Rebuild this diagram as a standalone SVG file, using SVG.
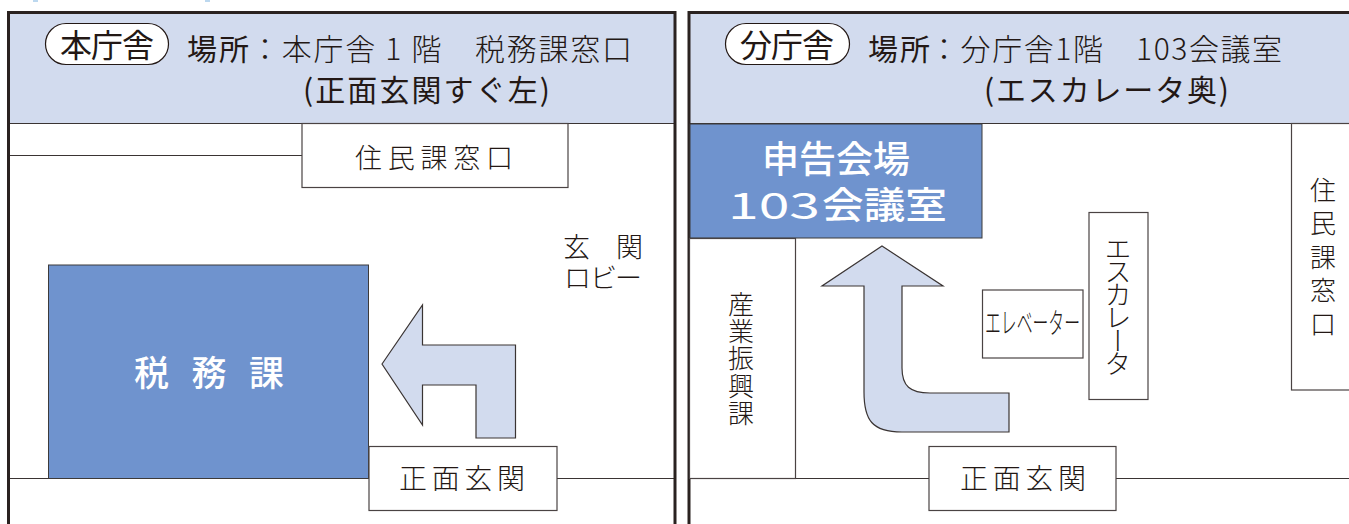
<svg xmlns="http://www.w3.org/2000/svg" width="1349" height="524" viewBox="0 0 1349 524">
<style>
text{font-family:"Noto Sans CJK JP","Noto Sans",sans-serif;fill:#231815}
.l{font-weight:300}
.m{font-weight:400}
.w{fill:#fff;font-weight:500}
.v{writing-mode:vertical-rl;dominant-baseline:central}
.hd{fill:#d2dbee}
.box{fill:#fff;stroke:#4a4343;stroke-width:1.2}
.blue{fill:#6f93ce;stroke:#3d3a3a;stroke-width:1}
.ln{fill:none;stroke:#3a3433;stroke-width:1.2}
.fr{fill:none;stroke:#2a2220;stroke-width:3}
.ar{fill:#d2dbee;stroke:#3a3433;stroke-width:1.2}
.pill{fill:#fff;stroke:#231815;stroke-width:1.2}
.sp{fill:#bcd8ef}
</style>
<rect width="1349" height="524" fill="#fff"/>
<rect class="sp" x="33" y="0" width="5" height="2"/>
<rect class="sp" x="205" y="0" width="5" height="2"/>
<g id="panel-left">
<rect class="hd" x="9" y="13" width="665" height="110"/>
<path class="ln" d="M8 123.500H675M8 155.500H302M8 478.500H48M557 478.500H675"/>
<path class="fr" d="M8.500 524V12.500H675V524"/>
</g>
<g id="panel-right">
<rect class="hd" x="690" y="13" width="659" height="110"/>
<path class="ln" d="M689 123.500H1349M690 478.500H929M1116 478.500H1349"/>
<path class="fr" d="M689 524V12.500H1349"/>
</g>
<g id="connectors">
<path id="arrow-left" class="ar" d="M382 364L422.500 305V345H515.500V438H476V385H422.500V425Z"/>
<path id="arrow-right" class="ar" d="M882 246L943 286H902V368C902 386 910 393 930 393H1009V432H902C872 432 864 420 864 392V286H822Z"/>
</g>
<g id="label-main">
<rect class="pill" x="45.500" y="23.500" width="123" height="41" rx="20.500"/>
<text class="m" x="60" y="57" font-size="32" textLength="94">本庁舎</text>
<text class="m" x="187" y="60" font-size="30" textLength="62">場所</text>
<text class="l" x="250" y="60" font-size="30" textLength="382">：本庁舎 1 階　税務課窓口</text>
<text class="m" x="303" y="101" font-size="30" textLength="247">(正面玄関すぐ左)</text>
</g>
<g id="label-annex">
<rect class="pill" x="725.500" y="23.500" width="124" height="41" rx="20.500"/>
<text class="m" x="740" y="57" font-size="32" textLength="94">分庁舎</text>
<text class="m" x="868" y="60" font-size="30" textLength="62">場所</text>
<text class="l" x="929" y="60" font-size="30" textLength="353">：分庁舎1階　103会議室</text>
<text class="m" x="984" y="101" font-size="30" textLength="245">(エスカレータ奥)</text>
</g>
<g id="node-juminka-main">
<rect class="box" x="302" y="123.500" width="266" height="64"/>
<text class="l" x="355" y="168" font-size="27" textLength="158">住民課窓口</text>
</g>
<g id="node-zeimuka">
<rect class="blue" x="48.500" y="265" width="320" height="213.500"/>
<text class="w" x="134" y="386" font-size="35" textLength="150">税務課</text>
</g>
<g id="node-entrance-main">
<rect class="box" x="369" y="446.500" width="188" height="64"/>
<text class="l" x="399" y="489" font-size="28" textLength="126">正面玄関</text>
</g>
<g id="node-lobby">
<text class="l" font-size="27"><tspan x="563 616" y="257">玄関</tspan><tspan x="564 590 615" y="288">ロビー</tspan></text>
</g>
<g id="node-venue">
<rect class="blue" x="690" y="124" width="292" height="114"/>
<text class="w" x="762" y="173" font-size="37" textLength="148">申告会場</text>
<text class="w" x="728" y="219" font-size="37" textLength="92" lengthAdjust="spacingAndGlyphs" style="font-weight:400">103</text>
<text class="w" x="822" y="219" font-size="37" textLength="125" lengthAdjust="spacingAndGlyphs">会議室</text>
</g>
<g id="node-juminka-annex">
<rect class="box" x="1291.500" y="123.500" width="60" height="266.500"/>
<text class="l v" x="1323" y="177" font-size="26" textLength="160">住民課窓口</text>
</g>
<g id="node-sangyo">
<rect class="box" x="689.500" y="238.500" width="106" height="240"/>
<text class="l v" x="741" y="291" font-size="26" textLength="135">産業振興課</text>
</g>
<g id="node-entrance-annex">
<rect class="box" x="929" y="446.500" width="187" height="64"/>
<text class="l" x="960" y="489" font-size="28" textLength="126">正面玄関</text>
</g>
<g id="node-elevator">
<rect class="box" x="982.500" y="290" width="100.500" height="68"/>
<text class="l" x="985" y="334" font-size="29" textLength="95" lengthAdjust="spacingAndGlyphs">エレベーター</text>
</g>
<g id="node-escalator">
<rect class="box" x="1089" y="212.500" width="59" height="187"/>
<text class="l v" x="1118" y="235" font-size="27" textLength="142">エスカレータ</text>
</g>
</svg>
